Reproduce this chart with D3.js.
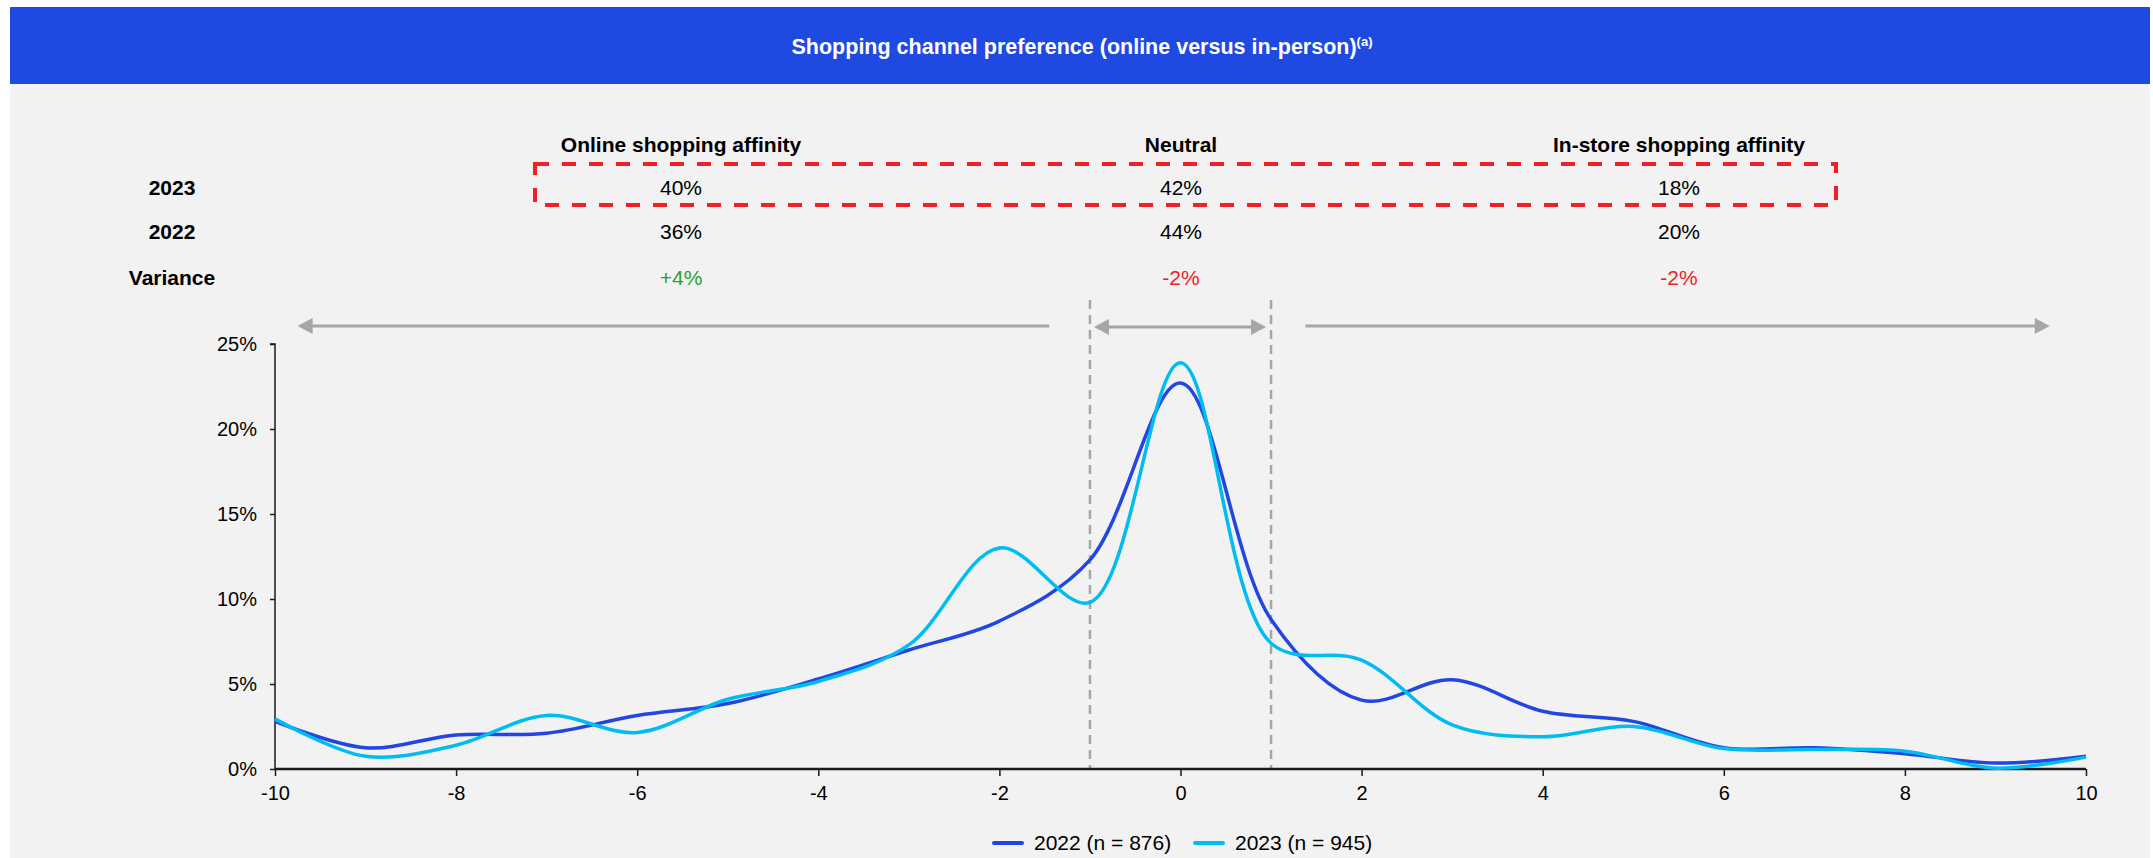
<!DOCTYPE html>
<html>
<head>
<meta charset="utf-8">
<script src="https://cdn.jsdelivr.net/npm/d3@7"></script>
<style>
  html, body { margin: 0; padding: 0; background: #ffffff; }
  svg { display: block; font-family: "Liberation Sans", Arial, sans-serif; }
</style>
</head>
<body>
<svg id="chart" width="2153" height="858"></svg>
<script>
// ---- data ----
const scores = [-10,-9,-8,-7,-6,-5,-4,-3,-2,-1,0,1,2,3,4,5,6,7,8,9,10];
const values2022 = [2.8,1.25,2.0,2.1,3.15,3.85,5.3,7.0,8.7,12.3,22.7,8.8,4.05,5.25,3.4,2.8,1.25,1.25,0.9,0.35,0.75];
const values2023 = [2.95,0.75,1.4,3.15,2.15,4.1,5.15,7.3,13.0,9.8,23.9,7.4,6.4,2.6,1.9,2.5,1.2,1.15,1.05,0.05,0.7];
const seriesNames = ["2022 (n = 876)", "2023 (n = 945)"];
const columns = ["Online shopping affinity", "Neutral", "In-store shopping affinity"];
const rowLabels = ["2023", "2022", "Variance"];
const row2023 = ["40%", "42%", "18%"];
const row2022 = ["36%", "44%", "20%"];
const rowVariance = ["+4%", "-2%", "-2%"];
const yTicks = [0,5,10,15,20,25];
const xTicks = [-10,-8,-6,-4,-2,0,2,4,6,8,10];
const title = "Shopping channel preference (online versus in-person)";
const titleNote = "(a)";

// ---- layout / style ----
const svg = d3.select("#chart");
const BLUE = "#1f4ae1", C22 = "#2146e2", C23 = "#00bcf2", GREY = "#a6a6a6";
const RED = "#ee2129", GREEN = "#2ca02c";

svg.append("rect").attr("x", 10).attr("y", 7).attr("width", 2140).attr("height", 851).attr("fill", "#f2f2f2");
svg.append("rect").attr("x", 10).attr("y", 7).attr("width", 2140).attr("height", 77).attr("fill", BLUE);

const t = svg.append("text").attr("x", 1082).attr("y", 54).attr("text-anchor", "middle")
  .attr("fill", "#fff").attr("font-weight", "bold").attr("font-size", 21.5);
t.append("tspan").text(title);
t.append("tspan").attr("font-size", 13).attr("dy", -8).text(titleNote);

// table
const colX = [681, 1181, 1679];
const labelX = 172;
const rowY = [195, 239, 285];
columns.forEach((c, i) => {
  svg.append("text").attr("x", colX[i]).attr("y", 152).attr("text-anchor", "middle")
    .attr("font-weight", "bold").attr("font-size", 21).attr("fill", "#000").text(c);
});
rowLabels.forEach((r, i) => {
  svg.append("text").attr("x", labelX).attr("y", rowY[i]).attr("text-anchor", "middle")
    .attr("font-weight", "bold").attr("font-size", 21).attr("fill", "#000").text(r);
});
[row2023, row2022, rowVariance].forEach((row, ri) => {
  row.forEach((v, ci) => {
    let col = "#000";
    if (ri === 2) col = v.startsWith("+") ? GREEN : RED;
    svg.append("text").attr("x", colX[ci]).attr("y", rowY[ri]).attr("text-anchor", "middle")
      .attr("font-size", 21).attr("fill", col).text(v);
  });
});
svg.append("rect").attr("x", 535).attr("y", 164).attr("width", 1301).attr("height", 41)
  .attr("fill", "none").attr("stroke", RED).attr("stroke-width", 4).attr("stroke-dasharray", "14,13");

// scales
const x = d3.scaleLinear().domain([-10, 10]).range([275, 2086]);
const y = d3.scaleLinear().domain([0, 25]).range([769, 344]);

// dashed neutral bounds
[-1, 1].forEach(v => {
  svg.append("line").attr("x1", x(v)).attr("x2", x(v)).attr("y1", 300).attr("y2", 769)
    .attr("stroke", GREY).attr("stroke-width", 2.5).attr("stroke-dasharray", "9,6");
});

// arrows
function arrow(x1, x2, yy, headStart, headEnd) {
  const hl = 15, hh = 8;
  const a = x1 + (headStart ? hl - 2 : 0), b = x2 - (headEnd ? hl - 2 : 0);
  svg.append("line").attr("x1", a).attr("x2", b).attr("y1", yy).attr("y2", yy)
    .attr("stroke", GREY).attr("stroke-width", 3);
  if (headStart) svg.append("path").attr("d", `M${x1},${yy}L${x1 + hl},${yy - hh}L${x1 + hl},${yy + hh}Z`).attr("fill", GREY);
  if (headEnd) svg.append("path").attr("d", `M${x2},${yy}L${x2 - hl},${yy - hh}L${x2 - hl},${yy + hh}Z`).attr("fill", GREY);
}
arrow(x(-9.75), x(-1.45), 326, true, false);
arrow(x(-1) + 4, x(1) - 5, 327, true, true);
arrow(x(1.38), x(9.6), 326, false, true);

// axes
const yAxis = svg.append("g").attr("transform", `translate(${x(-10)},0)`)
  .call(d3.axisLeft(y).tickValues(yTicks).tickSize(5).tickPadding(13).tickFormat(d => d + "%"));
yAxis.select(".domain").attr("stroke", "#1a1a1a").attr("stroke-width", 1.5).attr("d", `M-5,${y(25)}H0V${y(0)}`);
yAxis.selectAll(".tick line").attr("stroke", "#1a1a1a").attr("stroke-width", 1.5);
yAxis.selectAll("text").attr("font-size", 20).attr("fill", "#000").attr("font-family", "Liberation Sans, Arial, sans-serif");

const xAxis = svg.append("g").attr("transform", `translate(0,${y(0)})`)
  .call(d3.axisBottom(x).tickValues(xTicks).tickSize(7).tickFormat(d3.format("d")));
xAxis.select(".domain").attr("stroke", "#1a1a1a").attr("stroke-width", 2.3).attr("d", `M${x(-10)},0H${x(10)}`);
xAxis.selectAll(".tick line").attr("stroke", "#1a1a1a").attr("stroke-width", 1.5);
xAxis.selectAll("text").attr("font-size", 20).attr("fill", "#000").attr("y", 31).attr("dy", 0)
  .attr("font-family", "Liberation Sans, Arial, sans-serif")
  .text(d => d < 0 ? "-" + Math.abs(d) : d);

// lines
const line = d3.line().x((d, i) => x(scores[i])).y(d => y(d)).curve(d3.curveCatmullRom.alpha(0.5));
svg.append("path").datum(values2022).attr("d", line).attr("fill", "none").attr("stroke", C22).attr("stroke-width", 3.5);
svg.append("path").datum(values2023).attr("d", line).attr("fill", "none").attr("stroke", C23).attr("stroke-width", 3.5);

// legend
const legX = [994, 1195];
[C22, C23].forEach((c, i) => {
  svg.append("line").attr("x1", legX[i]).attr("x2", legX[i] + 28).attr("y1", 843).attr("y2", 843)
    .attr("stroke", c).attr("stroke-width", 4).attr("stroke-linecap", "round");
  svg.append("text").attr("x", legX[i] + 40).attr("y", 850).attr("font-size", 21).attr("fill", "#000").text(seriesNames[i]);
});
</script>
</body>
</html>
